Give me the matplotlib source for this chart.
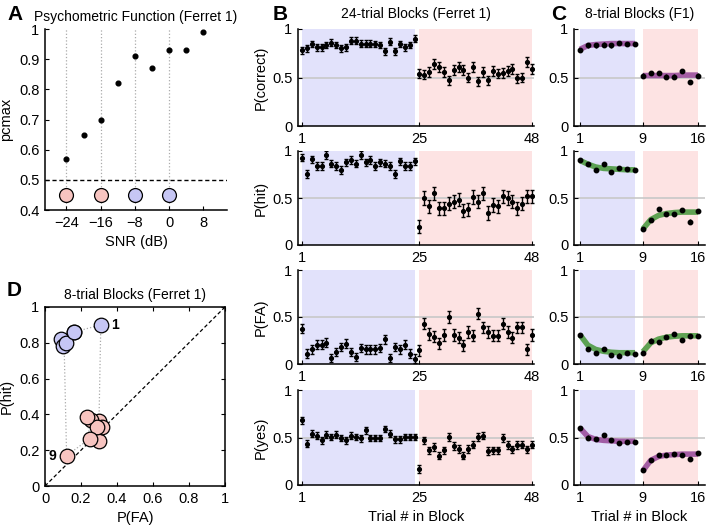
import matplotlib
matplotlib.use("Agg")
import matplotlib.pyplot as plt
import numpy as np

plt.rcParams['font.family'] = ['Liberation Sans', 'DejaVu Sans']
plt.rcParams['font.size'] = 10

# ---- data ----
snr = [-24, -20, -16, -12, -8, -4, 0, 4, 8]
pcmax = [0.57, 0.65, 0.70, 0.82, 0.91, 0.87, 0.93, 0.93, 0.99]
block_snr = [-24, -16, -8, 0]
block_kind = ['pink', 'pink', 'blue', 'blue']

trials24 = list(range(1, 49))
b_correct = [0.78, 0.80, 0.845, 0.81, 0.81, 0.835, 0.86, 0.835, 0.80, 0.81, 0.88, 0.88,
             0.85, 0.85, 0.85, 0.845, 0.835, 0.77, 0.87, 0.77, 0.845, 0.81, 0.835, 0.90,
             0.54, 0.53, 0.56, 0.64, 0.61, 0.56, 0.47, 0.58, 0.61, 0.58, 0.50, 0.61,
             0.46, 0.56, 0.47, 0.57, 0.54, 0.55, 0.57, 0.59, 0.49, 0.50, 0.66, 0.59]
b_hit = [0.93, 0.755, 0.91, 0.84, 0.84, 0.96, 0.865, 0.84, 0.80, 0.88, 0.905, 0.865,
         0.96, 0.88, 0.905, 0.84, 0.88, 0.865, 0.84, 0.755, 0.89, 0.84, 0.84, 0.89,
         0.195, 0.50, 0.41, 0.55, 0.39, 0.39, 0.44, 0.46, 0.48, 0.365, 0.38, 0.51,
         0.46, 0.55, 0.34, 0.425, 0.41, 0.52, 0.50, 0.46, 0.39, 0.44, 0.52, 0.52]
b_fa = [0.376, 0.11, 0.155, 0.206, 0.206, 0.227, 0.064, 0.128, 0.18, 0.216, 0.128, 0.074,
        0.17, 0.156, 0.156, 0.156, 0.17, 0.262, 0.064, 0.18, 0.156, 0.206, 0.11, 0.057,
        0.145, 0.43, 0.32, 0.29, 0.22, 0.31, 0.50, 0.31, 0.28, 0.20, 0.34, 0.30,
        0.535, 0.39, 0.34, 0.30, 0.30, 0.43, 0.34, 0.28, 0.39, 0.39, 0.156, 0.31]
b_yes = [0.68, 0.435, 0.54, 0.52, 0.47, 0.53, 0.505, 0.53, 0.495, 0.47, 0.52, 0.505,
         0.49, 0.575, 0.495, 0.495, 0.495, 0.59, 0.54, 0.48, 0.48, 0.505, 0.505, 0.505,
         0.17, 0.47, 0.365, 0.40, 0.31, 0.365, 0.505, 0.41, 0.38, 0.31, 0.38, 0.425,
         0.505, 0.52, 0.355, 0.365, 0.365, 0.495, 0.42, 0.375, 0.42, 0.425, 0.375, 0.425]
# error bar half-widths (blue block, pink block)
b_err = {'correct': (0.035, 0.05), 'hit': (0.04, 0.07), 'fa': (0.045, 0.06), 'yes': (0.035, 0.04)}

trials8 = list(range(1, 17))
c_correct = [0.78, 0.83, 0.83, 0.84, 0.83, 0.855, 0.845, 0.845,
             0.52, 0.545, 0.55, 0.51, 0.51, 0.57, 0.45, 0.52]
c_hit = [0.90, 0.86, 0.80, 0.86, 0.78, 0.82, 0.81, 0.80,
         0.17, 0.265, 0.385, 0.33, 0.33, 0.37, 0.25, 0.365]
c_fa = [0.31, 0.16, 0.117, 0.16, 0.10, 0.09, 0.113, 0.106,
        0.12, 0.25, 0.233, 0.29, 0.318, 0.258, 0.30, 0.30]
c_yes = [0.60, 0.50, 0.48, 0.53, 0.475, 0.44, 0.45, 0.45,
         0.154, 0.26, 0.32, 0.315, 0.33, 0.32, 0.27, 0.335]
fit_correct = [0.79, 0.83, 0.84, 0.845, 0.85, 0.85, 0.85, 0.85,
               0.52, 0.52, 0.52, 0.52, 0.52, 0.525, 0.525, 0.525]
fit_hit = [0.90, 0.86, 0.83, 0.815, 0.81, 0.805, 0.80, 0.80,
           0.17, 0.27, 0.315, 0.335, 0.345, 0.35, 0.35, 0.35]
fit_fa = [0.31, 0.20, 0.155, 0.135, 0.125, 0.12, 0.12, 0.12,
          0.13, 0.225, 0.265, 0.285, 0.295, 0.30, 0.30, 0.30]
fit_yes = [0.60, 0.51, 0.48, 0.47, 0.465, 0.46, 0.46, 0.46,
           0.15, 0.26, 0.30, 0.315, 0.32, 0.325, 0.325, 0.325]
c_err = 0.022

BLUE_BG = '#e2e2fb'
PINK_BG = '#fde3e3'
BLUE_DOT = '#c6c6f4'
PINK_DOT = '#f7c4c0'
PURPLE = '#9a4f9c'
GREEN = '#4e9a42'
GRAY = '#c8c8c8'

W, H = 707, 525
fig = plt.figure(figsize=(W / 100, H / 100), dpi=100)


def ax_px(x0, y0, x1, y1):
    return fig.add_axes([x0 / W, 1 - y1 / H, (x1 - x0) / W, (y1 - y0) / H])


def style(ax, box=False):
    for s in ['top', 'right']:
        ax.spines[s].set_visible(box)
    for s in ax.spines.values():
        s.set_linewidth(1.1)
    ax.tick_params(direction='in', length=3, width=0.8, labelsize=10.5, pad=4,
                   top=box, right=box)


# ---- A ----
axA = ax_px(45, 29, 227, 210)
for s in block_snr:
    axA.plot([s, s], [0.4, 1.0], ls=':', color='#aaaaaa', lw=0.9, zorder=1)
axA.axhline(0.5, ls='--', color='k', lw=1, dashes=(3, 2))
axA.plot(snr, pcmax, 'o', color='k', ms=3.4, zorder=3)
for s, k in zip(block_snr, block_kind):
    axA.plot(s, 0.45, 'o', ms=10, mfc=PINK_DOT if k == 'pink' else BLUE_DOT,
             mec='k', mew=0.9, zorder=4)
axA.set_xlim(-29, 13.5)
axA.set_ylim(0.4, 1.0)
axA.set_xticks([-24, -16, -8, 0, 8])
axA.set_yticks([0.4, 0.5, 0.6, 0.7, 0.8, 0.9, 1.0])
axA.set_yticklabels(['0.4', '0.5', '0.6', '0.7', '0.8', '0.9', '1'])
style(axA)
axA.set_title('Psychometric Function (Ferret 1)', fontsize=10, pad=6)
axA.set_ylabel('pcmax', fontsize=10.5)
axA.set_xlabel('SNR (dB)', fontsize=10.5)

# ---- D ----
axD = ax_px(45, 307, 225, 486)
axD.plot([0, 1], [0, 1], ls='--', color='k', lw=0.9, dashes=(3, 2))
loop_x = c_fa + [c_fa[0]]
loop_y = c_hit + [c_hit[0]]
axD.plot(loop_x, loop_y, ls=':', color='#aaaaaa', lw=0.9, zorder=1)
for i in range(15, -1, -1):
    axD.plot(c_fa[i], c_hit[i], 'o', ms=10.5, mfc=BLUE_DOT if i < 8 else PINK_DOT,
             mec='k', mew=0.9, zorder=3)
axD.text(c_fa[0] + 0.06, c_hit[0], '1', fontsize=10, fontweight='bold', va='center')
axD.text(c_fa[8] - 0.06, c_hit[8], '9', fontsize=10, fontweight='bold', va='center', ha='right')
axD.set_xlim(0, 1)
axD.set_ylim(0, 1)
ticks = [0, 0.2, 0.4, 0.6, 0.8, 1]
labs = ['0', '0.2', '0.4', '0.6', '0.8', '1']
axD.set_xticks(ticks)
axD.set_xticklabels(labs)
axD.set_yticks(ticks)
axD.set_yticklabels(labs)
style(axD, box=True)
axD.set_title('8-trial Blocks (Ferret 1)', fontsize=10, pad=6)
axD.set_ylabel('P(hit)', fontsize=10.5)
axD.set_xlabel('P(FA)', fontsize=10.5)

# ---- B and C ----
rows = [(29, 126), (151, 245), (270, 364), (390, 485)]
b_series = [(b_correct, 'correct', 'P(correct)'), (b_hit, 'hit', 'P(hit)'),
            (b_fa, 'fa', 'P(FA)'), (b_yes, 'yes', 'P(yes)')]
c_series = [(c_correct, fit_correct, PURPLE), (c_hit, fit_hit, GREEN),
            (c_fa, fit_fa, GREEN), (c_yes, fit_yes, PURPLE)]

for r, (y0, y1) in enumerate(rows):
    # B
    ax = ax_px(298, y0, 534, y1)
    ax.axvspan(1, 24, color=BLUE_BG, lw=0, zorder=0)
    ax.axvspan(25, 48, color=PINK_BG, lw=0, zorder=0)
    ax.axhline(0.5, color=GRAY, lw=1.2, zorder=1)
    vals, key, lab = b_series[r]
    eb, ep = b_err[key]
    errs = [eb] * 24 + [ep] * 24
    ax.errorbar(trials24, vals, yerr=errs, fmt='o', color='k', ms=2.7, lw=1,
                capsize=1.3, capthick=1, zorder=3)
    ax.set_xlim(0.2, 48.4)
    ax.set_ylim(0, 1)
    ax.set_xticks([1, 25, 48])
    ax.set_yticks([0, 0.5, 1])
    ax.set_yticklabels(['0', '0.5', '1'])
    style(ax)
    ax.set_ylabel(lab, fontsize=10.5, labelpad=3)
    if r == 0:
        ax.set_title('24-trial Blocks (Ferret 1)', fontsize=10, pad=8)
    if r == 3:
        ax.set_xlabel('Trial # in Block', fontsize=10.5)

    # C
    axc = ax_px(574, y0, 705, y1)
    axc.axvspan(1, 8, color=BLUE_BG, lw=0, zorder=0)
    axc.axvspan(9, 16, color=PINK_BG, lw=0, zorder=0)
    axc.axhline(0.5, color=GRAY, lw=1.2, zorder=1)
    cv, fv, col = c_series[r]
    axc.plot(trials8[:8], fv[:8], color=col, lw=4, alpha=0.9, solid_capstyle='butt', zorder=2)
    axc.plot(trials8[8:], fv[8:], color=col, lw=4, alpha=0.9, solid_capstyle='butt', zorder=2)
    axc.errorbar(trials8, cv, yerr=c_err, fmt='o', color='k', ms=3.2, lw=1,
                 capsize=0, zorder=3)
    axc.set_xlim(0.24, 16.9)
    axc.set_ylim(0, 1)
    axc.set_xticks([1, 9, 16])
    axc.set_yticks([0, 0.5, 1])
    axc.set_yticklabels(['0', '0.5', '1'])
    style(axc)
    if r == 0:
        axc.set_title('8-trial Blocks (F1)', fontsize=10, pad=8)
    if r == 3:
        axc.set_xlabel('Trial # in Block', fontsize=10.5)

# panel letters
for txt, x, y in [('A', 7, 14), ('B', 273, 14), ('C', 551, 14), ('D', 7, 290)]:
    fig.text(x / W, 1 - y / H, txt, fontsize=15, fontweight='bold', va='center', ha='left')

fig.savefig('out.png', dpi=100)
